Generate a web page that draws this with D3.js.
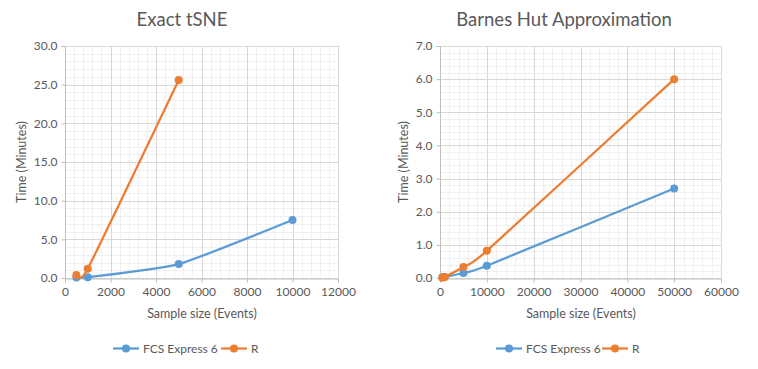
<!DOCTYPE html>
<html><head><meta charset="utf-8">
<script src="https://cdn.jsdelivr.net/npm/d3@7"></script>
<style>body{margin:0;background:#fff}svg{display:block}text{font-family:Lato,"Open Sans",sans-serif;fill:#595959}</style>
</head><body><svg id="c" width="758" height="369"></svg>
<script>
// Chart 1: Exact tSNE
const exactX = [500, 1000, 5000, 10000];
const exactFCS = [0.05, 0.1, 1.8, 7.5];
const exactRX = [500, 1000, 5000];
const exactR = [0.4, 1.2, 25.6];
const exactXTicks = [0, 2000, 4000, 6000, 8000, 10000, 12000];
const exactYTicks = [0, 5, 10, 15, 20, 25, 30];
// Chart 2: Barnes Hut
const bhX = [500, 1000, 5000, 10000, 50000];
const bhFCS = [0.02, 0.03, 0.15, 0.37, 2.7];
const bhR = [0.01, 0.03, 0.33, 0.82, 6.0];
const bhXTicks = [0, 10000, 20000, 30000, 40000, 50000, 60000];
const bhYTicks = [0, 1, 2, 3, 4, 5, 6, 7];
const seriesNames = ["FCS Express 6", "R"];
const colors = ["#5B9BD5", "#ED7D31"];

const svg = d3.select("#c");

function chart(cfg){
  const g = svg.append("g");
  const x = d3.scaleLinear().domain(cfg.xDomain).range([cfg.left, cfg.right]);
  const y = d3.scaleLinear().domain(cfg.yDomain).range([cfg.bottom, cfg.top]);
  const xMinor = d3.range(cfg.xDomain[0], cfg.xDomain[1] + 1e-9, cfg.xMinor);
  const yMinor = d3.range(cfg.yDomain[0], cfg.yDomain[1] + 1e-9, cfg.yMinor);
  g.selectAll(".xm").data(xMinor).join("line")
    .attr("x1", d => Math.round(x(d)) + 0.5).attr("x2", d => Math.round(x(d)) + 0.5)
    .attr("y1", cfg.top).attr("y2", cfg.bottom).attr("stroke", "#F0F0F0");
  g.selectAll(".ym").data(yMinor).join("line")
    .attr("y1", d => Math.round(y(d)) + 0.5).attr("y2", d => Math.round(y(d)) + 0.5)
    .attr("x1", cfg.left).attr("x2", cfg.right).attr("stroke", "#F0F0F0");
  g.selectAll(".xg").data(cfg.xTicks).join("line")
    .attr("x1", d => Math.round(x(d)) + 0.5).attr("x2", d => Math.round(x(d)) + 0.5)
    .attr("y1", cfg.top).attr("y2", cfg.bottom).attr("stroke", "#D9D9D9");
  g.selectAll(".yg").data(cfg.yTicks).join("line")
    .attr("y1", d => Math.round(y(d)) + 0.5).attr("y2", d => Math.round(y(d)) + 0.5)
    .attr("x1", cfg.left).attr("x2", cfg.right).attr("stroke", "#D9D9D9");
  const ya = g.append("g").attr("transform", `translate(${Math.round(cfg.left)+0.5},0)`)
    .call(d3.axisLeft(y).tickValues(cfg.yTicks).tickFormat(d3.format(".1f")).tickSize(4).tickPadding(4));
  ya.select(".domain").attr("stroke", "#BFBFBF").attr("d", `M-4,${cfg.top+0.5}H0V${Math.round(cfg.bottom)+0.5}`);
  ya.selectAll(".tick line").attr("stroke", "#BFBFBF");
  ya.selectAll("text").attr("font-size", 12).style("fill", "#595959").style("font-family", "Lato");
  const xa = g.append("g").attr("transform", `translate(0,${Math.round(cfg.bottom)+0.5})`)
    .call(d3.axisBottom(x).tickValues(cfg.xTicks).tickFormat(d3.format("d")).tickSize(4).tickPadding(5));
  xa.select(".domain").attr("stroke", "#BFBFBF");
  xa.selectAll(".tick line").attr("stroke", "#BFBFBF");
  xa.selectAll("text").attr("font-size", 12).style("fill", "#595959").style("font-family", "Lato");
  g.append("text").attr("x", cfg.titleX).attr("y", 26).attr("text-anchor", "middle")
    .attr("font-size", 18.5).text(cfg.title);
  g.append("text").attr("transform", `translate(${cfg.yTitleX},162) rotate(-90)`)
    .attr("text-anchor", "middle").attr("font-size", 12.5).text("Time (Minutes)");
  g.append("text").attr("x", cfg.xTitleX).attr("y", 318).attr("text-anchor", "middle")
    .attr("font-size", 12.5).text("Sample size (Events)");
  const line = d3.line().x(d => x(d[0])).y(d => y(d[1])).curve(d3.curveCardinal.tension(0.5));
  cfg.series.forEach((s, i) => {
    const pts = s.xs.map((v, k) => [v, s.ys[k]]);
    g.append("path").datum(pts).attr("d", line).attr("fill", "none")
      .attr("stroke", colors[i]).attr("stroke-width", 2.25).attr("stroke-linejoin", "round");
    g.selectAll(null).data(pts).join("circle").attr("cx", d => x(d[0])).attr("cy", d => y(d[1]))
      .attr("r", 4).attr("fill", colors[i]);
  });
  cfg.legend.forEach((lx, i) => {
    g.append("line").attr("x1", lx).attr("x2", lx + 26).attr("y1", 348.5).attr("y2", 348.5)
      .attr("stroke", colors[i]).attr("stroke-width", 2.25);
    g.append("circle").attr("cx", lx + 13).attr("cy", 348.5).attr("r", 4).attr("fill", colors[i]);
    g.append("text").attr("x", lx + 30).attr("y", 353).attr("font-size", 12).text(seriesNames[i]);
  });
}

chart({
  xDomain: [0, 12000], yDomain: [0, 30], left: 65, right: 338, top: 46, bottom: 278,
  xMinor: 400, yMinor: 1, xTicks: exactXTicks, yTicks: exactYTicks,
  title: "Exact tSNE", titleX: 182, yTitleX: 26, xTitleX: 202,
  series: [{xs: exactX, ys: exactFCS}, {xs: exactRX, ys: exactR}],
  legend: [113, 221]
});
chart({
  xDomain: [0, 60000], yDomain: [0, 7], left: 440, right: 721, top: 46, bottom: 278,
  xMinor: 2000, yMinor: 0.2, xTicks: bhXTicks, yTicks: bhYTicks,
  title: "Barnes Hut Approximation", titleX: 564, yTitleX: 408, xTitleX: 581,
  series: [{xs: bhX, ys: bhFCS}, {xs: bhX, ys: bhR}],
  legend: [496, 602]
});
</script></body></html>
